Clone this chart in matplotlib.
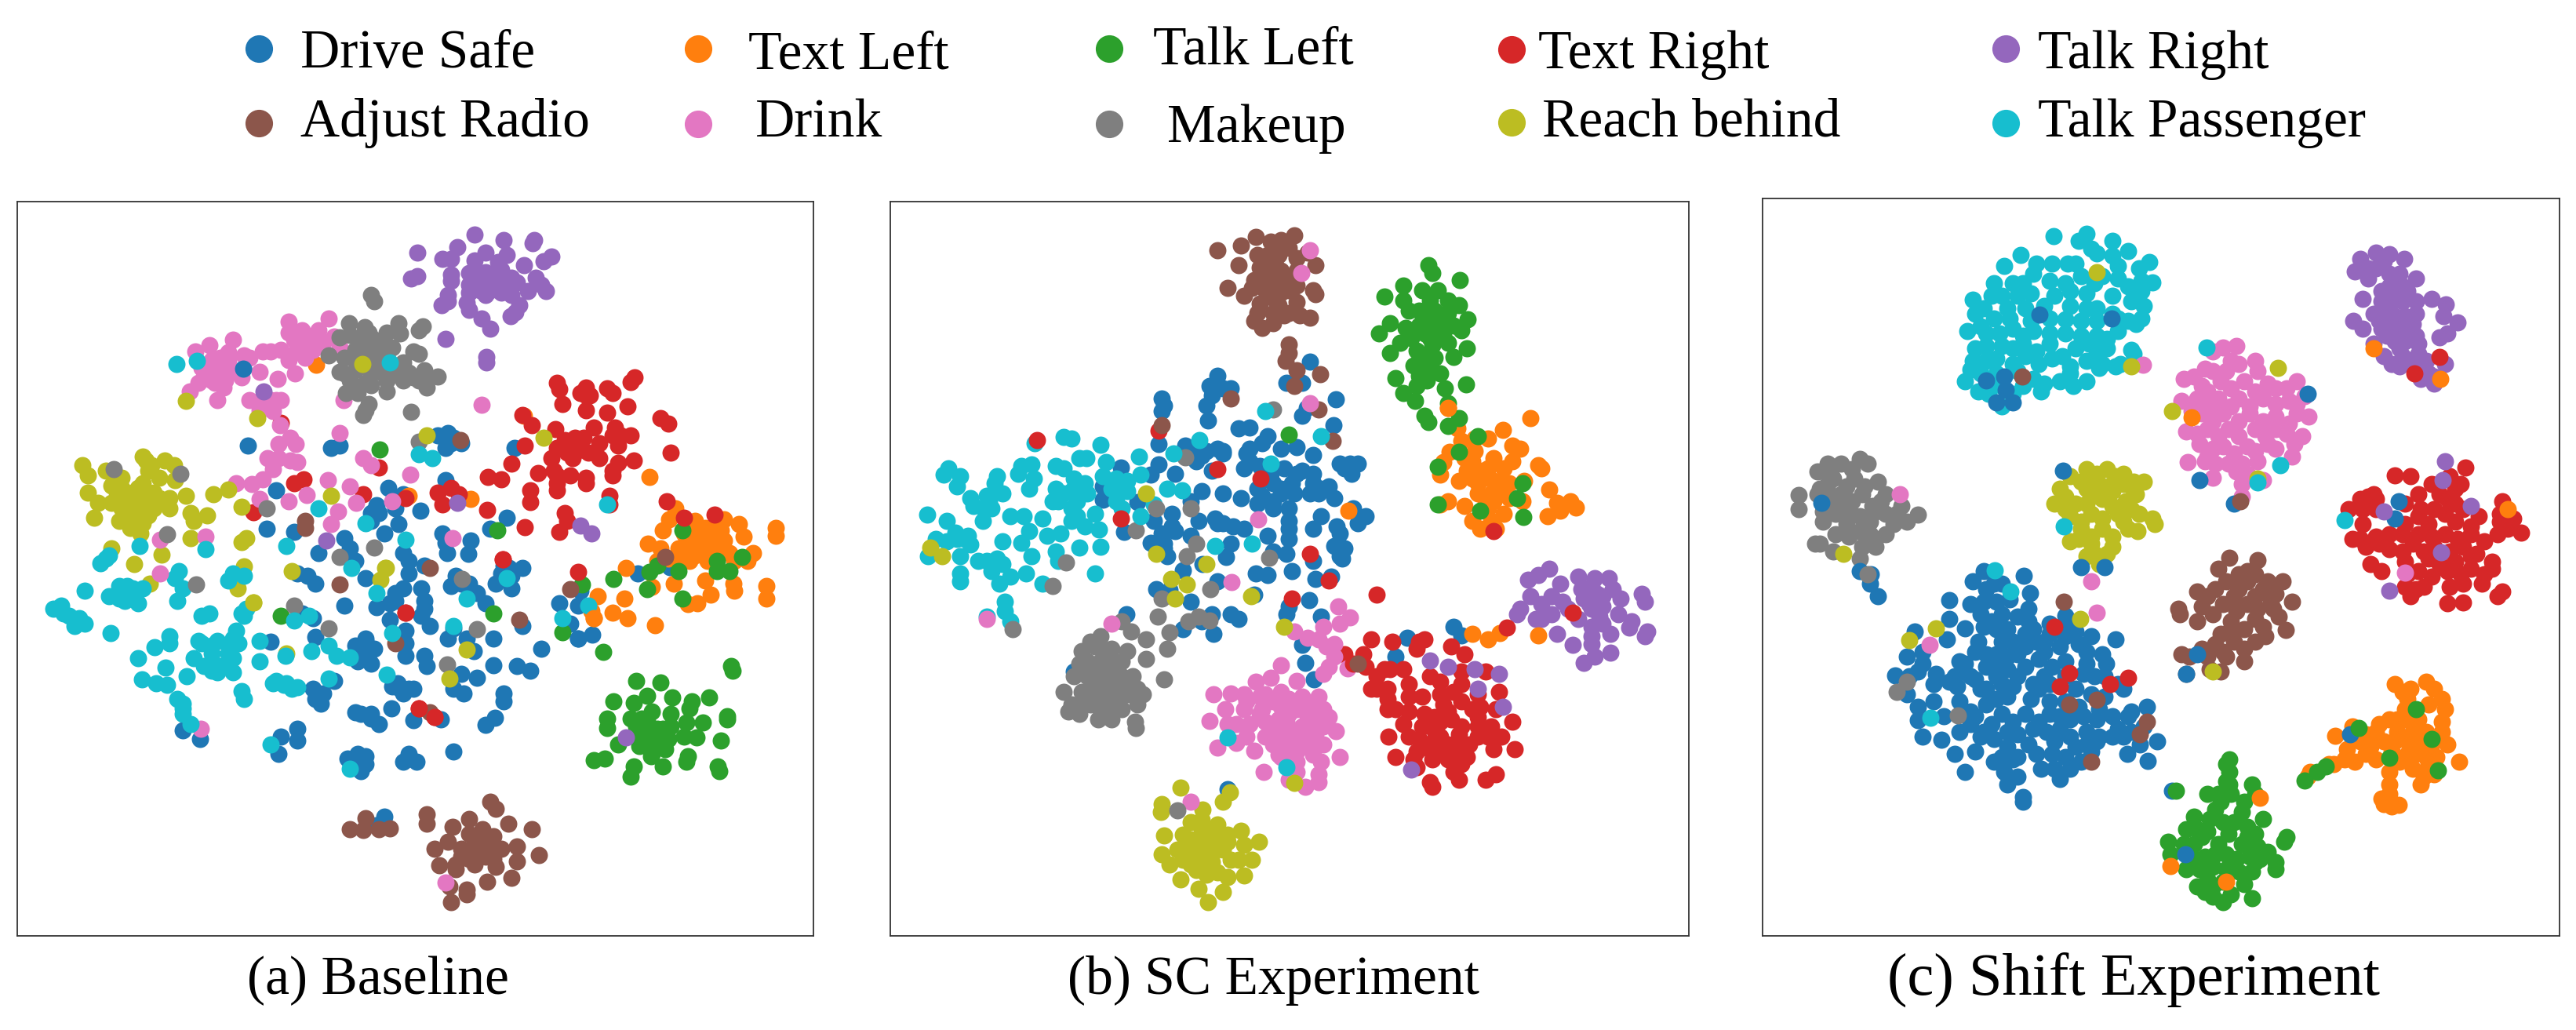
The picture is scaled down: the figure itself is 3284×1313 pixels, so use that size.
import matplotlib
matplotlib.use("Agg")
import matplotlib.pyplot as plt

W, H = 3284, 1313
CLASSES = ["Drive Safe", "Text Left", "Talk Left", "Text Right", "Talk Right",
           "Adjust Radio", "Drink", "Makeup", "Reach behind", "Talk Passenger"]
COLORS = ["#1f77b4", "#ff7f0e", "#2ca02c", "#d62728", "#9467bd",
          "#8c564b", "#e377c2", "#7f7f7f", "#bcbd22", "#17becf"]
CAPTIONS = ["(a) Baseline", "(b) SC Experiment", "(c) Shift Experiment"]

# ---------- Panel (a) values ----------
a_drive = [(459,362),(467,515),(640,515),(625,520),(840,500),(825,495),(850,510),(845,490),(870,510),(840,520),(520,605),(733,600),(840,585),(760,612),(710,635),(700,650),(793,645),(745,640),(700,665),(752,672),(503,682),(555,688),(650,700),(660,720),(725,690),(835,690),(840,710),(888,705),(843,730),(883,732),(955,660),(925,682),(600,730),(670,745),(760,730),(770,745),(960,760),(945,770),(985,760),(935,790),(965,800),(560,770),(580,775),(595,790),(690,780),(770,770),(800,755),(860,775),(885,790),(850,795),(900,810),(915,830),(745,810),(760,800),(735,830),(795,800),(800,825),(650,835),(710,838),(735,862),(795,855),(810,875),(570,850),(590,860),(595,897),(855,880),(845,900),(880,900),(930,900),(765,885),(765,910),(690,900),(670,915),(705,920),(675,945),(700,950),(765,935),(800,935),(805,955),(893,925),(930,953),(1020,920),(975,955),(1000,965),(870,970),(900,978),(510,907),(590,1000),(610,1010),(630,985),(605,1030),(740,995),(760,1010),(780,1000),(750,990),(875,1010),(950,1010),(950,1025),(670,1048),(700,1050),(715,1070),(738,1040),(780,1063),(832,1062),(933,1058),(915,1072),(560,1080),(560,1103),(530,1095),(525,1130),(855,1125),(675,1130),(690,1150),(655,1140),(680,1165),(770,1130),(760,1145),(785,1145),(345,1083),(377,1100),(725,1255),(710,1272),(1055,830),(1095,805),(1090,835),(1075,870),(1090,900),(1117,892),(1203,770),(1263,758),(985,875),(970,520),
           (690,905),(680,925),(695,930),(755,1000),(770,1000),(600,1010),(595,1020),(700,1060),(680,1050),(680,1145),(770,1140),(690,1135),(840,505),(855,500),(745,825),(800,840),(705,645),(715,650),(760,905),(880,795),(870,790),(965,775),(950,755),(855,1000)]
a_textl = [(1273,640),(1262,662),(1310,665),(1365,662),(1393,672),(1250,685),(1330,680),(1360,685),(1403,697),(1222,711),(1295,700),(1330,700),(1365,705),(1463,680),(1463,695),(1245,720),(1280,720),(1320,720),(1355,725),(1420,730),(1240,745),(1300,745),(1335,745),(1385,745),(1410,745),(1180,760),(1270,790),(1330,785),(1383,790),(1385,805),(1445,795),(1445,820),(1340,812),(1298,832),(1315,830),(1230,797),(1178,820),(1127,815),(1115,845),(1155,848),(1120,860),(1183,860),(1235,873),(1225,578),(988,456),(888,622),(596,354),(770,615),
           (1310,690),(1330,720),(1345,705),(1300,720),(1280,735),(1310,735),(1340,730),(1375,730),(1260,740),(1310,680),(1350,680),(1290,690)]
a_talkl = [(1378,955),(1382,965),(1200,985),(1245,988),(1157,1025),(1220,1015),(1268,1018),(1305,1025),(1337,1018),(1195,1028),(1145,1060),(1145,1078),(1190,1060),(1230,1045),(1265,1050),(1300,1040),(1372,1055),(1372,1062),(1295,1068),(1325,1068),(1215,1075),(1240,1080),(1265,1075),(1200,1090),(1230,1100),(1260,1100),(1290,1095),(1313,1097),(1165,1112),(1205,1115),(1230,1130),(1255,1120),(1360,1103),(1298,1135),(1120,1143),(1140,1140),(1195,1155),(1250,1155),(1295,1145),(1353,1155),(1190,1175),(1228,1135),(1357,1165),(1287,685),(1240,755),(1280,765),(1352,745),(1352,765),(1375,765),(1400,737),(1225,767),(1157,782),(1220,802),(1287,820),(1097,792),(1060,888),(1137,927),(930,850),(716,523),(938,685),(530,855),
           (1220,1085),(1240,1095),(1250,1080),(1225,1110),(1210,1060),(1245,1110),(1220,1065),(1200,1075)]
a_textr = [(1050,390),(1055,403),(1105,400),(1112,415),(1197,380),(1190,388),(1145,402),(1155,410),(1060,432),(1105,445),(1145,450),(1183,437),(1245,460),(1260,472),(985,455),(1003,475),(1047,482),(1120,480),(1160,480),(1190,495),(1090,510),(1050,520),(1130,510),(1165,515),(990,515),(1080,540),(1040,540),(1110,530),(1195,545),(1265,530),(965,552),(920,578),(945,583),(1015,570),(1045,565),(1075,575),(1105,590),(1155,575),(1050,605),(1000,605),(1000,628),(1150,615),(1258,627),(1065,650),(1070,665),(1055,688),(990,678),(919,644),(825,610),(850,600),(865,612),(835,632),(685,612),(715,560),(572,582),(555,590),(530,470),(478,648),(765,620),(948,743),(790,1040),(820,1057),(765,848),(1150,633),(1090,767),(1290,660),(1348,653),(1050,575),(1130,540),(1165,550),(1085,500),
           (1090,525),(1070,530),(1100,500),(1155,495),(1170,495),(1065,505),(1050,590),(1105,580),(1155,565),(1105,415),(1095,410)]
a_talkr = [(895,95),(950,105),(1007,105),(1005,112),(787,130),(862,120),(915,130),(955,135),(1040,138),(1025,148),(835,143),(850,143),(895,147),(940,150),(988,155),(850,175),(850,187),(885,172),(915,170),(945,165),(965,180),(1010,180),(775,183),(787,178),(885,195),(920,190),(940,195),(975,190),(1020,195),(1030,208),(995,207),(885,210),(915,215),(945,210),(965,215),(845,215),(845,228),(833,235),(880,230),(885,245),(980,235),(972,250),(963,258),(908,262),(925,282),(840,302),(917,338),(917,350),(905,205),(930,175),(900,185),(955,195),(1095,675),(1115,690),
           (930,180),(905,195),(925,205),(950,180),(945,205),(900,170)]
a_radio = [(925,1225),(935,1240),(805,1250),(805,1270),(885,1260),(853,1275),(958,1270),(910,1280),(1003,1280),(845,1305),(885,1290),(930,1295),(820,1320),(870,1320),(905,1310),(975,1315),(1017,1332),(945,1320),(870,1335),(905,1335),(930,1340),(975,1345),(828,1353),(860,1360),(895,1350),(935,1355),(860,1350),(918,1385),(965,1378),(848,1395),(880,1410),(850,1425),(880,1400),(690,1258),(660,1280),(685,1282),(715,1280),(735,1278),
           (905,1320),(915,1310),(890,1320),(895,1305),(925,1320),(915,1335),(885,1340)]
a_drink = [(545,268),(620,262),(570,285),(600,285),(545,290),(630,298),(555,305),(580,305),(610,310),(640,320),(510,327),(495,327),(530,325),(560,325),(590,325),(545,345),(575,340),(556,372),(570,300),(590,300),(440,305),(395,315),(368,328),(430,330),(460,335),(400,345),(430,345),(380,360),(410,365),(440,365),(470,340),(400,385),(425,385),(375,390),(358,408),(410,425),(422,400),(490,368),(523,382),(455,380),(470,425),(495,425),(520,425),(505,440),(530,425),(515,447),(490,445),(648,425),(410,375),(395,365),(548,500),(525,512),(558,512),(505,540),(525,540),(548,545),(560,548),(515,563),(495,583),(475,592),(445,590),(618,585),(660,597),(545,626),(578,614),(637,647),(625,672),(685,540),(700,555),(773,573),(490,622),(640,490),(672,630),(740,627),(528,475),
           (565,300),(575,320),(560,315),(590,315),(410,350),(420,360),(395,355),(415,340),(405,390),(430,370),(385,380),(500,430),(510,425)]
a_makeup = [(700,215),(705,228),(797,278),(790,285),(658,272),(688,280),(752,272),(660,295),(700,300),(730,290),(755,292),(640,300),(620,335),(680,310),(710,310),(740,320),(670,325),(700,330),(730,335),(780,328),(790,332),(650,340),(690,345),(720,350),(760,350),(640,368),(670,365),(700,370),(740,370),(770,370),(800,365),(825,378),(660,385),(690,390),(730,385),(760,385),(790,385),(805,400),(730,407),(652,410),(675,410),(695,432),(690,445),(685,455),(775,448),(700,395),(650,372),(680,340),(710,320),(690,300),
            (695,290),(720,305),(690,320),(710,340),(680,300),(670,345),(735,355),(700,355),(720,370),(755,370),(780,380),(800,380)]
a_reach = [(155,555),(165,575),(270,538),(310,545),(328,555),(200,565),(230,580),(280,565),(300,580),(330,585),(165,610),(220,610),(260,600),(290,610),(320,620),(350,615),(402,613),(430,603),(185,630),(230,640),(260,630),(290,640),(320,640),(360,650),(390,655),(178,660),(225,665),(255,660),(280,655),(245,680),(270,670),(365,665),(455,638),(360,700),(465,700),(455,708),(210,720),(305,733),(253,752),(460,757),(283,790),(448,800),(478,828),(550,765),(728,760),(718,783),(1025,500),(625,615),(350,427),(485,460),(880,922),(540,930),
           (250,610),(270,610),(240,620),(260,620),(250,640),(270,640),(240,650),(260,650),(210,630),(280,625),(300,620),(230,600),(210,595),(270,590),(285,555),(275,545),(265,690)]
a_pass = [(263,715),(200,740),(190,750),(205,735),(160,805),(100,840),(115,835),(130,855),(150,860),(140,875),(160,870),(208,890),(225,795),(240,810),(205,815),(235,825),(260,830),(250,800),(270,800),(338,765),(330,780),(345,800),(335,825),(440,770),(430,785),(460,775),(455,850),(465,840),(460,855),(380,855),(395,850),(320,895),(320,910),(292,917),(375,905),(400,915),(445,885),(450,910),(430,930),(365,940),(400,945),(400,965),(440,940),(490,945),(260,940),(312,958),(352,975),(268,982),(295,990),(315,992),(440,968),(410,968),(455,1005),(460,1020),(515,990),(535,993),(560,997),(345,1030),(345,1050),(620,980),(538,935),(587,926),(620,915),(635,935),(660,938),(490,905),
          (225,805),(240,795),(225,820),(345,1040),(335,1020),(440,900),(430,915),(400,930),(415,955),(385,955),(520,985),(540,990),(550,1000),(380,910),(410,905),(120,850)]
a_top = [(5,575,665),(5,575,680),(5,810,760),(5,640,792),(5,868,505),(5,1075,802),(5,1255,738),(5,980,862),(5,810,1048),(5,745,910),
         (6,302,703),(6,388,697),(6,302,770),(6,853,700),(6,909,434),(6,378,1080),(6,840,1387),
         (7,214,562),(7,340,572),(7,315,692),(7,370,792),(7,620,880),(7,705,718),(7,555,835),(7,872,782),(7,900,882),(7,843,952),(7,640,738),(7,790,507),(7,503,640),
         (8,848,980),(8,805,495),(8,683,352),(8,727,760),(8,478,828),
         (9,540,715),(9,765,703),(9,663,760),(9,710,810),(9,880,820),(9,815,540),(9,790,533),(9,600,640),(9,690,670),(9,955,780),(9,1060,860),(9,1110,835),(9,735,350),(9,372,347),(9,333,352),(9,388,722),(9,510,1112),(9,660,1160),(9,730,972),(9,855,875),(9,1145,632),(9,583,855),(9,555,865),(9,740,890),(9,360,1070),
         (3,765,848),(3,790,1040),(3,820,1057),(3,948,743),(4,497,407),(4,615,705),(4,862,630),(4,1180,1097),(0,459,362),(0,1090,900),(1,1120,860)]

# ---------- Panel (b) values ----------
b_drive = [(640,375),(625,395),(650,400),(665,400),(630,415),(620,435),(535,420),(540,435),(535,445),(623,465),(815,347),(770,390),(800,390),(863,422),(808,440),(800,455),(680,480),(700,478),(735,495),(858,473),(530,512),(580,515),(620,525),(650,525),(700,520),(725,510),(760,520),(790,518),(820,533),(600,545),(530,552),(458,558),(515,572),(560,570),(630,565),(690,560),(720,555),(765,560),(800,565),(870,550),(890,550),(905,550),(893,570),(425,595),(425,622),(490,627),(610,605),(590,625),(650,610),(685,620),(715,600),(745,590),(780,590),(820,570),(850,595),(860,620),(520,665),(555,650),(605,665),(640,670),(670,675),(715,630),(745,625),(775,640),(815,610),(895,640),(920,655),(905,670),(465,687),(560,685),(775,665),(835,655),(865,675),(870,690),(515,708),(540,710),(590,695),(665,710),(735,695),(775,700),(820,680),(860,715),(880,720),(545,735),(657,737),(745,725),(770,730),(820,745),(875,740),(575,763),(612,750),(712,770),(735,772),(780,765),(825,780),(855,775),(525,800),(550,803),(640,785),(710,812),(590,825),(813,823),(775,835),(835,855),(770,850),(630,850),(665,850),(468,850),(575,880),(610,865),(632,890),(680,860),(800,912),(805,948),(822,980),(997,898),(1085,875),(1100,893),(975,935),(370,965),(660,1200),
           (640,520),(600,530),(700,545),(740,570),(760,600),(725,615),(745,640),(760,610),(785,610),(820,590),(790,570),(835,600),(635,660),(650,670),(690,680),(535,690),(555,675),(535,720),(540,720),(775,680),(890,555),(880,560),(870,715),(870,735),(650,530),(610,535),(695,530),(830,610)]
b_textl = [(1075,440),(1230,460),(1092,480),(1178,483),(1100,505),(1150,500),(1195,515),(1078,527),(1125,525),(1210,520),(1065,548),(1160,540),(1245,553),(1060,572),(1110,565),(1140,565),(1180,560),(1250,560),(1095,585),(1130,590),(1160,585),(1218,585),(1265,602),(1130,610),(1170,610),(1190,620),(1075,625),(1105,635),(1150,640),(1215,625),(1280,628),(1305,625),(1315,638),(1262,655),(1285,645),(1060,632),(1120,665),(1155,665),(1180,650),(1135,680),(1165,680),
           (1120,545),(1140,580),(1150,560),(1120,580),(1170,590),(1155,610),(1190,590),(1125,500),(1145,630),(1160,625),(1195,545),(1105,540)]
b_talkl = [(1037,155),(1045,170),(1097,185),(990,195),(1025,205),(1055,205),(955,218),(990,225),(1095,235),(1040,240),(1075,225),(1000,245),(1040,260),(1070,260),(1112,262),(965,270),(945,290),(1020,275),(1050,280),(1100,285),(1005,300),(1040,300),(1065,295),(965,330),(1015,325),(1110,320),(1050,340),(1085,338),(975,380),(1010,355),(1060,370),(1035,385),(1108,393),(1015,395),(1068,400),(990,410),(1012,425),(1075,430),(1030,455),(1037,468),(1075,475),(1095,460),(1130,495),(1095,527),(1055,557),(1055,632),(1135,645),(1215,590),(1217,657),(1205,620),(775,492),
           (1040,225),(1050,245),(1060,275),(1030,290),(1045,315),(1075,250),(1085,275),(995,280),(1020,245),(985,310),(1075,310),(1030,340),(1040,360),(1020,375)]
b_textr = [(880,930),(915,930),(930,900),(970,905),(1020,905),(1030,900),(1080,915),(1105,930),(920,955),(1015,920),(940,975),(965,960),(990,960),(1040,975),(1100,965),(1145,965),(930,1000),(960,1000),(1000,990),(1025,1015),(1060,985),(1100,990),(1130,1010),(1170,1005),(960,1040),(1000,1045),(1030,1050),(1065,1030),(1100,1025),(1165,1040),(1195,1065),(990,1070),(1040,1075),(1080,1060),(1130,1055),(1155,1075),(962,1095),(1020,1100),(1060,1095),(1095,1090),(1130,1095),(1175,1095),(1015,1125),(1060,1125),(1095,1120),(1160,1120),(1200,1120),(975,1135),(1045,1140),(1110,1135),(1015,1155),(1085,1165),(1040,1185),(1095,1180),(1145,1180),(1165,1170),(1045,1195),
           (1050,1100),(1075,1110),(1100,1075),(1130,1075),(1150,1095),(1115,1110),(1075,1045),(1050,1055),(1000,1015),(960,1020),(975,1040),(1025,1075),(1085,1005),(1120,1040),(1135,1035),(1000,1095),(1040,1120),(1075,1140),(1010,1140),(940,1000),(1100,1150),(1060,1010),(955,960),(1060,1065)]
b_talkr = [(1265,760),(1245,772),(1225,782),(1320,775),(1350,778),(1378,778),(1285,790),(1230,815),(1270,815),(1325,800),(1355,810),(1385,800),(1440,810),(1445,825),(1400,820),(1205,850),(1210,840),(1250,830),(1290,825),(1340,830),(1365,835),(1395,850),(1250,860),(1320,860),(1360,855),(1420,865),(1415,878),(1280,890),(1345,875),(1380,890),(1450,885),(1445,895),(1310,912),(1345,910),(1380,928),(1350,935),(1330,947),
           (1300,840),(1330,820),(1345,795),(1365,815),(1270,850),(1240,860),(1345,840),(1345,895),(1365,870)]
b_radio = [(712,98),(785,95),(740,108),(760,105),(640,125),(685,115),(775,120),(715,135),(810,130),(680,155),(825,155),(730,160),(750,155),(790,165),(710,185),(740,180),(770,185),(660,200),(820,205),(825,212),(690,215),(730,205),(790,195),(760,210),(720,232),(755,235),(790,228),(765,255),(815,260),(710,265),(745,270),(725,280),(795,255),(775,312),(768,345),(790,365),(833,372),(785,395),(775,330),
           (735,135),(755,135),(735,180),(720,160),(760,165),(705,200),(745,200),(775,205),(745,220),(715,250),(745,250),(775,250),(790,140)]
b_drink = [(867,835),(890,857),(840,875),(785,885),(810,897),(830,900),(870,870),(860,910),(860,935),(885,958),(840,970),(760,952),(632,1010),(665,1008),(712,985),(740,978),(790,983),(830,1015),(690,1010),(720,1015),(760,1005),(655,1040),(690,1040),(725,1040),(760,1035),(790,1040),(840,1040),(660,1070),(700,1070),(730,1065),(770,1065),(810,1060),(850,1055),(625,1063),(695,1095),(760,1095),(790,1085),(825,1090),(863,1083),(640,1117),(675,1108),(710,1123),(745,1110),(775,1125),(810,1115),(840,1110),(870,1135),(760,1135),(790,1145),(835,1145),(727,1165),(790,1165),(830,1170),(775,1180),(805,1195),(830,1185),(755,1060),(780,1100),
           (770,1080),(800,1075),(825,1065),(750,1080),(775,1110),(805,1100),(840,1075),(740,1090),(730,1095),(790,1125),(820,1130),(720,1050),(695,1025),(745,1025),(775,1020),(810,1030),(730,1010),(675,1070),(815,1045),(775,1050),(845,915),(850,955),(800,1015),(755,1130)]
b_makeup = [(400,905),(385,925),(420,895),(440,920),(470,925),(505,940),(545,920),(380,950),(420,945),(450,950),(370,975),(410,975),(440,975),(480,975),(539,980),(350,1005),(400,1000),(430,1005),(470,1000),(500,1010),(365,1030),(400,1030),(440,1030),(490,1030),(380,1050),(415,1060),(485,1065),(487,1078),(420,990),(445,1000),(478,885),(505,900),(550,886),(460,865),(528,855),
            (395,945),(430,925),(460,945),(395,975),(425,960),(460,975),(385,1005),(415,1015),(455,1010),(490,1000),(385,1030),(420,1040),(460,1040),(410,915),(440,1060),(360,1045),(435,945),(470,1010),(405,960)]
b_reach = [(570,1197),(535,1230),(533,1245),(663,1205),(650,1225),(612,1240),(590,1265),(640,1270),(685,1282),(540,1292),(575,1290),(620,1285),(660,1290),(718,1304),(690,1310),(565,1320),(610,1320),(650,1320),(535,1330),(590,1350),(630,1345),(680,1340),(705,1340),(550,1350),(570,1380),(620,1370),(660,1375),(690,1372),(605,1398),(650,1405),(622,1425),(610,1300),(640,1310),(600,1335),
           (610,1260),(590,1300),(625,1305),(660,1305),(585,1320),(630,1330),(665,1340),(600,1360),(640,1365),(610,1345),(575,1340),(600,1315),(610,1280),(640,1290)]
b_pass = [(350,497),(365,500),(296,510),(420,513),(492,537),(133,560),(125,572),(155,575),(150,595),(225,575),(270,555),(290,552),(335,555),(350,560),(380,540),(393,540),(430,548),(265,570),(220,590),(295,580),(370,580),(425,575),(460,590),(495,572),(175,620),(205,615),(235,610),(285,600),(335,600),(365,605),(395,610),(440,600),(470,605),(93,652),(180,635),(215,640),(330,625),(375,625),(410,650),(460,640),(520,632),(130,665),(198,665),(250,655),(275,655),(310,660),(365,665),(390,675),(417,682),(147,688),(165,700),(110,700),(285,685),(320,695),(345,690),(130,705),(235,705),(270,708),(175,712),(420,716),(380,718),(335,725),(95,735),(155,735),(290,735),(340,745),(205,745),(235,750),(155,770),(215,765),(250,775),(280,770),(410,770),(155,785),(310,790),(230,790),(240,825),(240,845),(250,865),(205,855),
          (370,600),(390,590),(350,610),(340,625),(200,640),(210,625),(150,700),(170,695),(215,750),(225,740),(365,640),(375,655),(450,580),(470,585),(450,625),(190,745)]
b_top = [(1,1075,440),(1,1120,890),(1,1150,900),(1,1172,888),(1,1245,893),(1,887,645),
         (3,300,503),(3,530,485),(3,640,562),(3,722,580),(3,458,660),(3,940,812),(3,815,730),(3,850,783),(3,780,820),(3,1185,878),(3,1310,848),(3,895,950),(3,1160,685),
         (4,1040,943),(4,1075,955),(4,1125,960),(4,1170,970),(4,1130,1000),(4,1178,1035),(4,1005,1160),
         (5,535,473),(5,665,420),(5,857,505),(5,830,443),(5,905,950),
         (6,815,125),(6,798,170),(6,815,430),(6,717,662),(6,667,787),(6,590,1225),(6,440,870),(6,205,860),
         (7,745,443),(7,580,538),(7,525,640),(7,590,640),(7,487,683),(7,600,710),(7,582,735),(7,737,738),(7,355,748),(7,330,795),(7,627,800),(7,535,820),(7,605,855),(7,625,863),(7,585,865),(7,255,880),(7,565,1242),
         (8,100,718),(8,122,735),(8,620,750),(8,553,780),(8,582,792),(8,560,820),(8,703,815),(8,765,875),(8,785,1187),(8,525,730),(8,505,610),
         (9,558,530),(9,606,503),(9,730,445),(9,835,495),(9,740,550),(9,545,600),(9,573,603),(9,635,715),(9,705,710),(9,660,1097),(9,770,1155),(9,495,655)]

# ---------- Panel (c) values ----------
c_drive = [(445,765),(522,773),(425,785),(465,790),(533,808),(380,823),(420,830),(470,825),(380,860),(440,850),(480,850),(530,840),(600,853),(530,865),(410,878),(445,875),(490,880),(540,880),(315,885),(375,900),(435,905),(480,905),(525,915),(570,890),(620,885),(695,900),(650,895),(330,925),(300,935),(430,925),(470,930),(510,930),(590,915),(640,925),(670,930),(400,945),(550,940),(450,955),(490,960),(525,955),(600,945),(678,950),(278,972),(320,965),(355,970),(405,965),(560,975),(635,970),(655,975),(710,1000),(300,1010),(350,990),(395,995),(450,1000),(500,995),(570,990),(620,1000),(700,990),(320,1035),(400,1025),(450,1030),(490,1015),(535,1020),(570,1025),(625,1035),(665,1040),(725,1045),(755,1035),(320,1062),(370,1055),(430,1055),(480,1050),(525,1050),(570,1050),(610,1060),(660,1060),(720,1055),(400,1085),(445,1085),(490,1085),(540,1080),(590,1080),(640,1085),(700,1080),(750,1075),(330,1095),(365,1102),(440,1095),(490,1115),(530,1110),(580,1105),(640,1110),(690,1095),(742,1110),(775,1105),(390,1130),(430,1125),(465,1145),(510,1135),(545,1130),(600,1135),(650,1125),(718,1130),(757,1143),(410,1165),(485,1165),(555,1160),(610,1160),(510,1175),(590,1180),(490,1190),(520,1215),(520,1225),(230,790),(245,815),
           (450,800),(480,790),(495,820),(445,825),(460,865),(510,855),(570,870),(610,870),(470,880),(500,905),(545,905),(600,895),(450,930),(490,935),(560,925),(625,910),(410,950),(470,950),(510,975),(470,975),(575,955),(640,950),(380,985),(420,975),(440,1000),(480,990),(540,990),(600,975),(675,975),(350,1025),(420,1045),(470,1020),(550,1000),(600,1025),(650,1010),(675,1015),(460,1070),(500,1065),(550,1065),(590,1055),(635,1055),(690,1055),(420,1070),(465,1100),(510,1090),(565,1085),(610,1095),(665,1095),(725,1085),(500,1140),(575,1130),(620,1115),(660,1105),(710,1095),(480,1135),(580,1160),(630,1145),(305,975),(330,950),(390,975),(430,980),(525,890),(560,905)]
c_textl = [(1225,990),(1285,985),(1255,1000),(1300,1000),(1250,1020),(1315,1020),(1320,1040),(1245,1040),(1215,1060),(1270,1060),(1145,1075),(1190,1085),(1230,1085),(1285,1085),(1315,1085),(1113,1093),(1160,1105),(1205,1105),(1250,1105),(1295,1110),(1325,1110),(1130,1140),(1170,1130),(1220,1125),(1265,1130),(1348,1145),(1305,1135),(1215,1165),(1260,1160),(1300,1170),(1275,1190),(1215,1190),(1200,1218),(1205,1230),(1233,1232),(1065,1165),(1060,1175),(1100,1150),
           (1245,1060),(1290,1030),(1240,1005),(1255,1040),(1195,1070),(1230,1060),(1260,1085),(1170,1090),(1135,1120),(1180,1115),(1225,1105),(1270,1110),(1190,1140),(1250,1130),(1285,1135),(1235,1145),(1290,1150),(1110,1150),(1150,1145),(1315,1065),(1280,1175),(1215,1210),(1220,1235)]
c_talkl = [(912,1140),(912,1165),(905,1185),(955,1190),(870,1210),(915,1210),(960,1210),(885,1240),(935,1245),(845,1255),(975,1260),(900,1265),(945,1275),(830,1280),(870,1285),(1020,1295),(1015,1305),(795,1305),(845,1310),(890,1310),(935,1310),(800,1330),(865,1335),(925,1340),(985,1325),(1000,1345),(1000,1360),(830,1360),(880,1355),(955,1365),(850,1395),(900,1385),(940,1390),(880,1415),(900,1425),(955,1418),(970,1340),
           (895,1225),(890,1210),(940,1225),(920,1265),(875,1260),(850,1280),(910,1290),(945,1295),(960,1290),(860,1295),(825,1310),(905,1330),(950,1335),(840,1335),(885,1330),(965,1315),(855,1360),(905,1360),(930,1365),(960,1345),(870,1380),(915,1410),(835,1340),(865,1405),(880,1395),(912,1190),(905,1150)]
c_textr = [(1225,573),(1255,575),(1360,558),(1330,575),(1185,610),(1160,620),(1270,610),(1310,610),(1350,590),(1138,640),(1190,640),(1300,640),(1340,630),(1430,625),(1425,650),(1165,670),(1245,670),(1290,670),(1340,665),(1385,655),(1450,660),(1465,687),(1145,700),(1215,690),(1270,690),(1320,690),(1370,690),(1420,690),(1170,715),(1215,720),(1260,710),(1300,715),(1355,715),(1380,730),(1180,750),(1245,745),(1290,740),(1340,745),(1410,745),(1200,765),(1270,765),(1325,765),(1370,760),(1245,795),(1280,795),(1330,795),(1390,790),(1430,805),(1255,815),(1325,828),(1355,827),(1420,815),
           (1245,630),(1275,640),(1325,620),(1270,655),(1320,650),(1355,640),(1370,675),(1240,690),(1295,695),(1345,700),(1395,705),(1190,695),(1160,700),(1175,615),(1190,620),(1165,640),(1195,710),(1240,725),(1280,725),(1330,725),(1370,735),(1310,750),(1350,770),(1395,770),(1425,665),(1440,680),(1250,770),(1295,775),(1265,800),(1355,790),(1410,760),(1295,590),(1340,600)]
c_talkr = [(1190,128),(1160,140),(1215,132),(1243,140),(1150,165),(1190,160),(1235,170),(1265,180),(1175,180),(1215,195),(1250,205),(1165,220),(1200,225),(1240,225),(1295,220),(1322,232),(1185,250),(1225,255),(1265,250),(1318,255),(1147,265),(1165,280),(1200,280),(1240,280),(1345,268),(1325,290),(1310,297),(1185,310),(1225,305),(1265,295),(1205,335),(1240,335),(1270,330),(1320,350),(1235,355),(1285,345),(1275,380),(1300,390),(1280,370),
           (1205,145),(1175,160),(1215,170),(1240,195),(1200,205),(1235,205),(1220,225),(1265,225),(1205,250),(1245,255),(1195,265),(1220,280),(1260,270),(1210,295),(1245,305),(1235,320),(1270,310),(1255,345),(1265,365),(1290,370),(1300,375),(1220,350)]
c_radio = [(912,738),(965,742),(890,760),(930,770),(960,770),(1013,785),(850,805),(885,800),(930,800),(975,800),(815,840),(860,835),(900,830),(945,830),(990,825),(1030,825),(818,850),(850,865),(915,880),(960,860),(1005,855),(1018,882),(885,910),(920,905),(960,905),(980,895),(835,935),(870,935),(905,935),(940,945),(895,965),(830,970),
           (905,785),(945,785),(985,785),(870,815),(920,815),(960,815),(1000,810),(880,850),(925,845),(965,840),(995,840),(895,890),(940,880),(975,875),(860,920),(900,925),(940,920),(915,865),(820,930),(875,960),(945,765)]
c_drink = [(900,318),(925,315),(880,325),(915,345),(960,345),(865,360),(930,350),(825,380),(1040,385),(860,395),(895,385),(940,385),(985,390),(1020,400),(1055,415),(820,425),(850,420),(890,420),(930,420),(975,420),(1025,425),(860,450),(900,450),(950,450),(1000,455),(1062,455),(1040,450),(830,485),(870,480),(910,480),(960,480),(1000,480),(1050,495),(855,510),(900,515),(945,515),(985,510),(1035,510),(870,535),(935,550),(965,545),(1030,535),(833,547),(885,550),(925,565),(880,578),(935,590),(935,615),(975,583),
           (905,365),(845,375),(880,365),(965,365),(1000,400),(870,405),(915,400),(960,405),(840,445),(875,435),(915,435),(950,435),(1000,430),(1040,430),(880,465),(930,465),(975,465),(1025,470),(850,490),(890,495),(930,495),(980,495),(1020,490),(880,520),(920,530),(960,525),(1000,520),(910,550),(945,570),(865,545)]
c_makeup = [(150,550),(210,540),(175,550),(130,565),(225,550),(245,585),(160,580),(200,580),(95,612),(135,600),(175,610),(215,610),(260,610),(95,640),(145,635),(190,640),(235,635),(290,635),(320,652),(140,665),(185,670),(230,665),(275,670),(300,665),(135,710),(160,725),(190,695),(240,700),(215,715),(240,715),(210,740),(155,615),(170,640),
            (155,570),(185,595),(220,595),(250,625),(160,630),(195,625),(235,650),(165,650),(210,655),(260,650),(165,690),(210,685),(260,690),(140,645),(130,610),(150,590),(195,560),(230,690),(125,710),(280,650)]
c_reach = [(640,560),(680,560),(610,575),(650,575),(710,570),(750,585),(590,600),(640,600),(690,590),(735,610),(580,630),(620,630),(670,620),(715,625),(610,655),(650,650),(700,650),(740,650),(765,660),(770,670),(630,680),(670,680),(720,680),(610,705),(650,710),(690,715),(640,735),(665,750),(670,740),(738,685),
           (630,585),(665,590),(710,590),(600,615),(650,615),(690,605),(725,595),(600,640),(640,630),(690,635),(725,640),(630,665),(670,660),(710,665),(650,695),(690,695),(625,700),(655,730),(680,730),(660,570),(695,575),(730,585)]
c_pass = [(578,95),(640,90),(625,105),(690,105),(660,130),(720,125),(515,133),(485,155),(575,150),(605,150),(760,147),(700,155),(740,160),(465,190),(540,170),(630,175),(670,175),(765,187),(500,190),(600,190),(720,195),(425,222),(460,215),(535,210),(580,215),(640,210),(690,215),(745,205),(490,240),(525,240),(610,235),(660,240),(750,235),(430,250),(465,260),(570,260),(630,265),(720,265),(415,285),(450,290),(500,280),(540,285),(600,290),(660,295),(700,285),(735,270),(430,320),(480,315),(520,310),(570,310),(620,320),(660,325),(725,322),(730,330),(450,345),(500,350),(550,350),(610,355),(665,358),(695,355),(420,362),(540,380),(610,370),(640,385),(410,385),(435,405),(480,395),(520,395),(555,405),(615,395),(480,435),
          (650,120),(690,135),(620,150),(545,150),(520,190),(570,185),(610,205),(655,190),(700,180),(745,185),(480,215),(510,215),(560,235),(640,240),(690,250),(725,225),(445,240),(495,260),(535,265),(600,262),(660,265),(700,260),(745,260),(440,275),(475,290),(520,295),(570,290),(630,295),(680,300),(450,315),(500,320),(545,325),(595,335),(645,310),(680,320),(470,340),(525,335),(575,340),(640,345),(440,370),(470,370),(510,365),(560,390),(590,385),(670,350),(705,350),(425,345),(460,380),(455,410),(500,410)]
c_top = [(0,551,252),(0,688,260),(0,450,384),(0,485,375),(0,470,427),(0,500,428),(0,488,402),(0,1060,410),(0,855,583),(0,920,630),(0,1233,625),(0,1225,660),(0,851,930),(0,830,970),(0,828,1330),(0,803,1203),(0,1140,1090),(0,596,563),(0,630,757),(0,675,757),(0,137,628),(0,210,765),(0,232,770),
         (1,1185,320),(1,1312,380),(1,840,457),(1,1440,640),(1,970,1217),(1,800,1354),(1,905,1385),
         (2,810,1203),(2,1078,1165),(2,1095,1155),(2,1055,1183),(2,1215,1137),(2,1308,1162),(2,1295,1100),(2,1157,1078),(2,1265,1040),
         (3,1263,370),(3,1310,337),(3,580,875),(3,608,968),(3,720,978),(3,685,990),(3,590,995),
         (4,1320,545),(4,1317,582),(4,1205,645),(4,1370,635),(4,1215,803),(4,1313,727),
         (5,597,825),(5,608,1030),(5,660,1022),(5,755,1065),(5,742,1090),(5,650,1145),(5,933,625),(5,518,375),
         (6,748,352),(6,287,610),(6,650,785),(6,660,848),(6,343,912),(6,1245,767),
         (7,280,1005),(7,300,985),(7,397,1052),(7,225,770),
         (8,1003,358),(8,725,355),(8,660,168),(8,803,445),(8,180,730),(8,305,903),(8,355,878),(8,628,860),(8,880,965),(8,965,580),
         (9,868,318),(9,597,675),(9,1008,553),(9,965,587),(9,1130,662),(9,467,763),(9,497,805),(9,345,1057)]

PANELS = [
    ([a_drive, a_textl, a_talkl, a_textr, a_talkr, a_radio, a_drink, a_makeup, a_reach, a_pass], a_top,
     (21.6, 1037, 257, 1193), (32, 1534, 29, 1493)),
    ([b_drive, b_textl, b_talkl, b_textr, b_talkr, b_radio, b_drink, b_makeup, b_reach, b_pass], b_top,
     (1135, 2153, 257, 1193), (24, 1528, 28, 1492)),
    ([c_drive, c_textl, c_talkl, c_textr, c_talkr, c_radio, c_drink, c_makeup, c_reach, c_pass], c_top,
     (2247, 3263, 253, 1193), (26, 1538, 20, 1493)),
]
CAPTION_X = [482, 1623, 2720]
CAPTION_SIZE = [50, 50, 55]
CAPTION_Y = 1250
LEGEND_DOTS = [(330,62),(890,62),(1414,62),(1927,63),(2557,62),(330,157),(890,158),(1414,158),(1927,156),(2557,157)]
LEGEND_TEXT = [(383,86),(954,87),(1470,82),(1961,87),(2598,87),(383,174),(963,174),(1488,181),(1966,174),(2598,174)]

plt.rcParams['font.family'] = ['Liberation Serif', 'DejaVu Serif']
fig = plt.figure(figsize=(W / 100, H / 100), dpi=100, facecolor='white')
DOT = 250

for series, top, box, lim in PANELS:
    x0, x1, y0, y1 = box
    ax = fig.add_axes([x0 / W, 1 - y1 / H, (x1 - x0) / W, (y1 - y0) / H])
    for k, pts in enumerate(series):
        ax.scatter([p[0] for p in pts], [p[1] for p in pts], s=DOT, color=COLORS[k], linewidths=0)
    for k, px, py in top:
        ax.scatter([px], [py], s=DOT, color=COLORS[k], linewidths=0)
    ax.set_xlim(lim[0], lim[1])
    ax.set_ylim(lim[3], lim[2])
    ax.set_xticks([])
    ax.set_yticks([])
    for sp in ax.spines.values():
        sp.set_linewidth(1.3)
        sp.set_color('#333333')

page = fig.add_axes([0, 0, 1, 1], zorder=-1)
page.set_xlim(0, W)
page.set_ylim(H, 0)
page.axis('off')
for k, name in enumerate(CLASSES):
    page.scatter([LEGEND_DOTS[k][0]], [LEGEND_DOTS[k][1]], s=640, color=COLORS[k], linewidths=0)
    page.text(LEGEND_TEXT[k][0], LEGEND_TEXT[k][1], name, fontsize=50, va='baseline', ha='left', color='black')
for cx, cap, fs in zip(CAPTION_X, CAPTIONS, CAPTION_SIZE):
    page.text(cx, CAPTION_Y, cap, fontsize=fs, va='center', ha='center', color='black')

fig.savefig('out.png', dpi=100, facecolor='white')
